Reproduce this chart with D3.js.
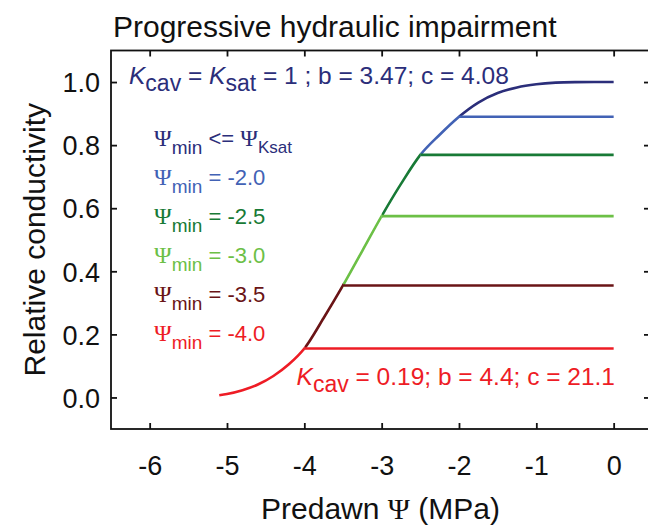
<!DOCTYPE html>
<html>
<head>
<meta charset="utf-8">
<script src="https://cdn.jsdelivr.net/npm/d3@7"></script>
<style>
  html, body { margin: 0; padding: 0; background: #fff; }
  svg { display: block; }
  text { font-family: "Liberation Sans", Arial, sans-serif; }
</style>
</head>
<body>
<svg id="chart" width="648" height="526"></svg>
<script>
// Vulnerability curve: predawn water potential (MPa) vs relative conductivity
const curvePsi = [0, -0.25, -0.5, -0.75, -1.0, -1.25, -1.5, -1.75, -2.0, -2.25, -2.5, -2.75,
                  -3.0, -3.25, -3.5, -3.75, -4.0, -4.2, -4.4, -4.6, -4.8, -5.0, -5.1];
const curveK   = [1.0, 1.0, 0.9996, 0.998, 0.993, 0.983, 0.965, 0.935, 0.89, 0.833, 0.769, 0.677,
                  0.575, 0.465, 0.355, 0.252, 0.155, 0.105, 0.068, 0.041, 0.023, 0.011, 0.007];

// Minimum water potential reached and the conductivity retained afterwards
const psiMin    = [-2.0, -2.5, -3.0, -3.5, -4.0];
const kRetained = [0.89, 0.769, 0.575, 0.355, 0.155];

// Legend rows
const legendSub  = ["min", "min", "min", "min", "min", "min"];
const legendText = [" <= ", " = -2.0", " = -2.5", " = -3.0", " = -3.5", " = -4.0"];
const segColors  = ["#2b2e7a", "#4262b5", "#187a36", "#6cc046", "#6a1416", "#ee1c25"];

const xTicks = [-6, -5, -4, -3, -2, -1, 0];
const yTicks = [0.0, 0.2, 0.4, 0.6, 0.8, 1.0];

const svg = d3.select("#chart");
const plotL = 111, plotR = 650, plotT = 50.5, plotB = 429;

const x = d3.scaleLinear().domain([-6.5, 0.47]).range([plotL, plotR]);
const y = d3.scaleLinear().domain([-0.1, 1.1]).range([plotB, plotT]);

// Title
svg.append("text").attr("x", 113).attr("y", 37)
  .attr("font-size", 30).attr("fill", "#111")
  .text("Progressive hydraulic impairment");

// Frame
svg.append("rect").attr("x", plotL).attr("y", plotT)
  .attr("width", plotR - plotL).attr("height", plotB - plotT)
  .attr("fill", "none").attr("stroke", "#111").attr("stroke-width", 1.8);

// Axes with inward ticks on all four sides
const tickLen = 6;
svg.append("g").attr("transform", `translate(0,${plotB})`)
  .call(d3.axisBottom(x).tickValues(xTicks).tickSize(-tickLen).tickFormat(d => d))
  .call(g => g.select(".domain").remove())
  .call(g => g.selectAll("line").attr("stroke", "#111").attr("stroke-width", 1.8))
  .call(g => g.selectAll("text").attr("font-size", 27).attr("fill", "#111")
    .attr("font-family", "Liberation Sans, Arial, sans-serif").attr("dy", null).attr("y", 46));

svg.append("g").attr("transform", `translate(0,${plotT})`)
  .call(d3.axisTop(x).tickValues(xTicks).tickSize(-tickLen).tickFormat(""))
  .call(g => g.select(".domain").remove())
  .call(g => g.selectAll("line").attr("stroke", "#111").attr("stroke-width", 1.8));

svg.append("g").attr("transform", `translate(${plotL},0)`)
  .call(d3.axisLeft(y).tickValues(yTicks).tickSize(-tickLen).tickFormat(d3.format(".1f")))
  .call(g => g.select(".domain").remove())
  .call(g => g.selectAll("line").attr("stroke", "#111").attr("stroke-width", 1.8))
  .call(g => g.selectAll("text").attr("font-size", 27).attr("fill", "#111")
    .attr("font-family", "Liberation Sans, Arial, sans-serif").attr("x", -11).attr("dy", "0.36em"));

svg.append("g").attr("transform", `translate(${plotR},0)`)
  .call(d3.axisRight(y).tickValues(yTicks).tickSize(-tickLen).tickFormat(""))
  .call(g => g.select(".domain").remove())
  .call(g => g.selectAll("line").attr("stroke", "#111").attr("stroke-width", 1.8));

// Axis titles
const xt = svg.append("text").attr("x", (plotL + plotR) / 2).attr("y", 519)
  .attr("text-anchor", "middle").attr("font-size", 30).attr("fill", "#111");
xt.append("tspan").text("Predawn ");
xt.append("tspan").attr("font-family", "Liberation Serif, serif").text("Ψ");
xt.append("tspan").text(" (MPa)");

svg.append("text").attr("transform", `translate(45,${(plotT + plotB) / 2}) rotate(-90)`)
  .attr("text-anchor", "middle").attr("font-size", 30).attr("fill", "#111")
  .text("Relative conductivity");

// Curve points
const pts = curvePsi.map((p, i) => ({ p, k: curveK[i] }));
const line = d3.line().x(d => x(d.p)).y(d => y(d.k)).curve(d3.curveMonotoneX);

// Colour bands along the curve, split at each minimum potential
const bounds = [0.3, ...psiMin, -5.3];
const defs = svg.append("defs");
bounds.slice(0, -1).forEach((hi, i) => {
  const lo = bounds[i + 1];
  defs.append("clipPath").attr("id", "seg" + i)
    .append("rect").attr("x", x(lo)).attr("y", 0)
    .attr("width", x(hi) - x(lo)).attr("height", 526);
  svg.append("path").datum(pts)
    .attr("d", line).attr("fill", "none")
    .attr("stroke", segColors[i]).attr("stroke-width", 2.6)
    .attr("clip-path", `url(#seg${i})`);
});

// Retained conductivity after each minimum potential
psiMin.forEach((p, i) => {
  svg.append("line")
    .attr("x1", x(p)).attr("x2", x(0))
    .attr("y1", y(kRetained[i])).attr("y2", y(kRetained[i]))
    .attr("stroke", segColors[i + 1]).attr("stroke-width", 2.6);
});

// Parameter annotations
function paramLabel(sel, parts) {
  parts.forEach(pt => {
    const t = sel.append("tspan").text(pt.t);
    if (pt.italic) t.attr("font-style", "italic");
    if (pt.sub) t.attr("baseline-shift", "-30%").attr("font-size", 23);
    else t.attr("baseline-shift", "0%");
  });
}

const a1 = svg.append("text").attr("x", 129).attr("y", 84).attr("font-size", 24.5).attr("fill", segColors[0]);
paramLabel(a1, [{ t: "K", italic: true }, { t: "cav", sub: true }, { t: " = " },
  { t: "K", italic: true }, { t: "sat", sub: true }, { t: " = 1 ; b = 3.47; c = 4.08" }]);

const a2 = svg.append("text").attr("x", 615).attr("y", 385).attr("text-anchor", "end")
  .attr("font-size", 24.5).attr("fill", segColors[5]);
paramLabel(a2, [{ t: "K", italic: true }, { t: "cav", sub: true }, { t: " = 0.19; b = 4.4; c = 21.1" }]);

// Legend
const rowY = [146, 185, 224, 263, 302, 341];
legendText.forEach((txt, i) => {
  const t = svg.append("text").attr("x", 154).attr("y", rowY[i])
    .attr("font-size", 22).attr("fill", segColors[i]);
  t.append("tspan").attr("font-family", "Liberation Serif, serif").attr("font-size", 24).text("Ψ");
  t.append("tspan").attr("baseline-shift", "-40%").attr("font-size", 19).text(legendSub[i]);
  t.append("tspan").attr("baseline-shift", "0%").text(txt);
  if (i === 0) {
    t.append("tspan").attr("font-family", "Liberation Serif, serif").attr("font-size", 24).text("Ψ");
    t.append("tspan").attr("baseline-shift", "-40%").attr("font-size", 17).text("Ksat");
  }
});
</script>
</body>
</html>
